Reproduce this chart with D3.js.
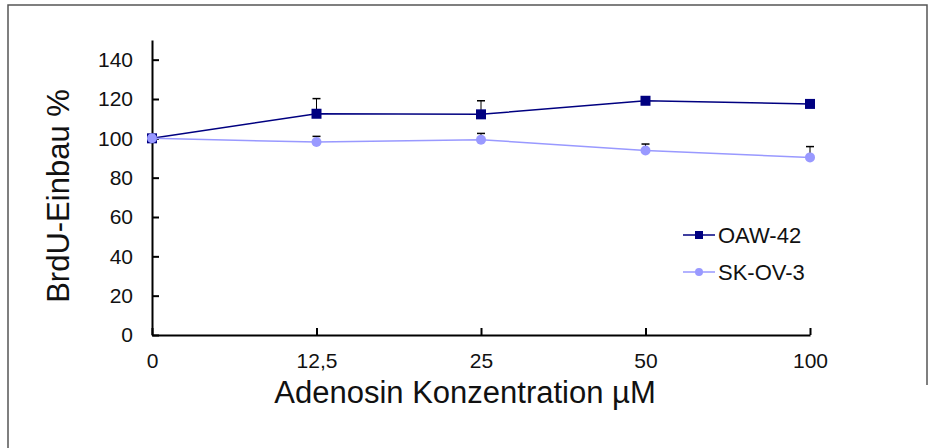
<!DOCTYPE html>
<html>
<head>
<meta charset="utf-8">
<script src="https://cdn.jsdelivr.net/npm/d3@7"></script>
<style>
  body { margin: 0; background: #fff; }
  svg { display: block; font-family: Arial, "Liberation Sans", sans-serif; }
  .axis path, .axis line { stroke: #000; stroke-width: 2; }
  .axis text { font-size: 21px; fill: #111; font-family: Arial, "Liberation Sans", sans-serif; }
</style>
</head>
<body>
<svg width="935" height="448"></svg>
<script>
// concentrations (categorical axis)
var concentrations = ["0", "12,5", "25", "50", "100"];
var yTicks = [0, 20, 40, 60, 80, 100, 120, 140];

// series values (BrdU incorporation, %)
var oawValues = [100, 112.5, 112.2, 119.1, 117.5];
var oawErrors = [0, 7.7, 6.9, 1.5, 1.5];
var skovValues = [100, 98.1, 99.3, 93.8, 90.3];
var skovErrors = [0, 2.9, 3.2, 3.3, 5.5];

var seriesNames = ["OAW-42", "SK-OV-3"];
var seriesColors = ["#000080", "#9999ff"];

var svg = d3.select("svg");

// outer frame (left + top edges as in the screenshot)
svg.append("path")
  .attr("d", "M8,448V5H927V385")
  .attr("fill", "none")
  .attr("stroke", "#555")
  .attr("stroke-width", 1.5);

var x = d3.scalePoint()
  .domain(concentrations)
  .range([152, 810]);

var y = d3.scaleLinear()
  .domain([0, 150])
  .range([335, 40]);

svg.append("g")
  .attr("class", "axis")
  .attr("transform", "translate(152,0)")
  .call(d3.axisLeft(y)
    .tickValues(yTicks)
    .tickSizeInner(-7)
    .tickSizeOuter(0)
    .tickPadding(19));

svg.append("g")
  .attr("class", "axis")
  .attr("transform", "translate(0,335)")
  .call(d3.axisBottom(x)
    .tickSizeInner(-7)
    .tickSizeOuter(0)
    .tickPadding(18));

// axis titles
svg.append("text")
  .attr("transform", "rotate(-90)")
  .attr("x", -196)
  .attr("y", 69)
  .attr("text-anchor", "middle")
  .attr("font-size", 31)
  .attr("fill", "#111")
  .text("BrdU-Einbau %");

svg.append("text")
  .attr("x", 465)
  .attr("y", 403)
  .attr("text-anchor", "middle")
  .attr("font-size", 31)
  .attr("fill", "#111")
  .text("Adenosin Konzentration µM");

var series = [
  { name: seriesNames[0], color: seriesColors[0], values: oawValues, errors: oawErrors, shape: "square" },
  { name: seriesNames[1], color: seriesColors[1], values: skovValues, errors: skovErrors, shape: "circle" }
];

var line = d3.line()
  .x(function(d, i) { return x(concentrations[i]); })
  .y(function(d) { return y(d); });

series.forEach(function(s) {
  var g = svg.append("g");

  // upper error bars
  s.values.forEach(function(v, i) {
    if (!s.errors[i]) return;
    var cx = x(concentrations[i]);
    var top = y(v + s.errors[i]);
    g.append("line")
      .attr("x1", cx).attr("x2", cx)
      .attr("y1", y(v)).attr("y2", top)
      .attr("stroke", "#000").attr("stroke-width", 1);
    g.append("line")
      .attr("x1", cx - 4).attr("x2", cx + 4)
      .attr("y1", top).attr("y2", top)
      .attr("stroke", "#000").attr("stroke-width", 1.5);
  });

  g.append("path")
    .datum(s.values)
    .attr("fill", "none")
    .attr("stroke", s.color)
    .attr("stroke-width", 1.5)
    .attr("d", line);
});

// markers on top
series.forEach(function(s) {
  var g = svg.append("g");
  if (s.shape === "square") {
    g.selectAll("rect")
      .data(s.values)
      .enter().append("rect")
      .attr("x", function(d, i) { return x(concentrations[i]) - 5; })
      .attr("y", function(d) { return y(d) - 5; })
      .attr("width", 10)
      .attr("height", 10)
      .attr("fill", s.color);
  } else {
    g.selectAll("circle")
      .data(s.values)
      .enter().append("circle")
      .attr("cx", function(d, i) { return x(concentrations[i]); })
      .attr("cy", function(d) { return y(d); })
      .attr("r", 5)
      .attr("fill", s.color);
  }
});

// legend
var legend = svg.append("g")
  .attr("transform", "translate(683,235)");

series.forEach(function(s, i) {
  var row = legend.append("g")
    .attr("transform", "translate(0," + (i * 37) + ")");
  row.append("line")
    .attr("x1", 0).attr("x2", 32)
    .attr("y1", 0).attr("y2", 0)
    .attr("stroke", s.color)
    .attr("stroke-width", 1.5);
  if (s.shape === "square") {
    row.append("rect")
      .attr("x", 12).attr("y", -4)
      .attr("width", 8).attr("height", 8)
      .attr("fill", s.color);
  } else {
    row.append("circle")
      .attr("cx", 16).attr("cy", 0)
      .attr("r", 4)
      .attr("fill", s.color);
  }
  row.append("text")
    .attr("x", 35)
    .attr("y", 8)
    .attr("font-size", 22)
    .attr("fill", "#111")
    .text(s.name);
});
</script>
</body>
</html>
